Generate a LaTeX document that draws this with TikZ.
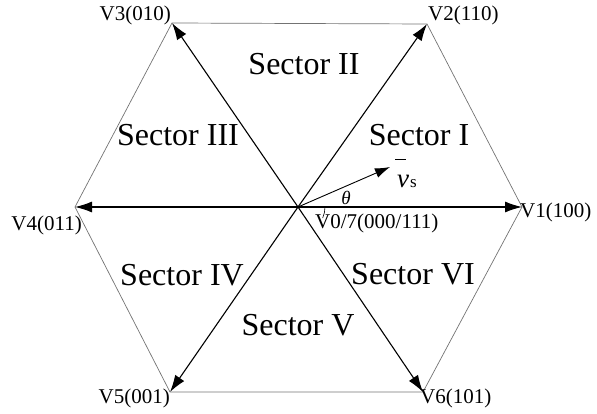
\documentclass[tikz,border=0pt]{standalone}
\usepackage{fontspec}
\setmainfont{Liberation Serif}
\usetikzlibrary{arrows.meta}
\tikzset{
  hexline/.style={draw=black!55, line width=0.7pt},
  vecarrow/.style={draw=black, line width=1.1pt, -{Latex[length=17pt,width=11pt]}},
  sectorlbl/.style={font=\fontsize{32}{36}\selectfont, inner sep=0pt},
  vertlbl/.style={font=\fontsize{21}{24}\selectfont, inner sep=0pt},
}
\begin{document}
\begin{tikzpicture}[x=1pt,y=-1pt]
\useasboundingbox (0,0) rectangle (597,414);
\coordinate (O) at (298,207);
\coordinate (v1) at (522,207);
\coordinate (v2) at (427,24);
\coordinate (v3) at (172,23);
\coordinate (v4) at (75,207);
\coordinate (v5) at (170,392);
\coordinate (v6) at (423,392);
\coordinate (vs) at (390,167);
% hexagon
\draw[hexline] (v1) -- (v2) -- (v3) -- (v4) -- (v5) -- (v6) -- cycle;
% vectors
\foreach \v in {v1,v2,v3,v4,v5,v6} \draw[vecarrow] (O) -- (\v);
\draw[vecarrow, line width=0.9pt, -{Latex[length=15pt,width=10pt]}] (O) -- (vs);
% theta arc
\coordinate (a0) at (325,207);
\draw[line width=0.6pt] (a0) arc[start angle=0, end angle=24, radius=27];
\node[font=\fontsize{19}{22}\selectfont\itshape, inner sep=0pt] (th) at (346,198) {θ};
\node[font=\fontsize{27}{30}\selectfont, inner sep=0pt, anchor=base west] (vsl) at (397,188)
  {\makebox[0pt][l]{\hspace{-2pt}\raisebox{28pt}{\rule{11pt}{1.3pt}}}\textit{v}\hspace{1pt}{\fontsize{17}{20}\selectfont s}};
% sector labels
\node[sectorlbl] (s1) at (419,135) {Sector I};
\node[sectorlbl] (s2) at (304,64) {Sector II};
\node[sectorlbl] (s3) at (178,135) {Sector III};
\node[sectorlbl] (s4) at (182,275) {Sector IV};
\node[sectorlbl] (s5) at (298,325) {Sector V};
\node[sectorlbl] (s6) at (413,274) {Sector VI};
% vertex labels
\node[vertlbl, anchor=west] (l1) at (520,212) {V1(100)};
\node[vertlbl, anchor=west] (l2) at (428,15) {V2(110)};
\node[vertlbl, anchor=east] (l3) at (171,15) {V3(010)};
\node[vertlbl, anchor=east] (l4) at (82,225) {V4(011)};
\node[vertlbl, anchor=east] (l5) at (170,398) {V5(001)};
\node[vertlbl, anchor=west] (l6) at (420,398) {V6(101)};
\node[vertlbl, anchor=west] (l0) at (315,223) {V0/7(000/111)};
\end{tikzpicture}
\end{document}
